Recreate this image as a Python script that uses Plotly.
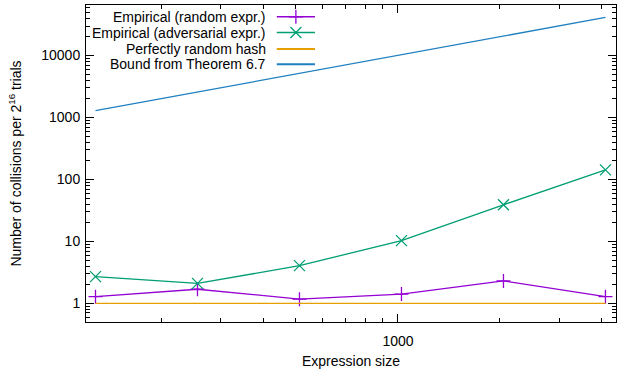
import plotly.graph_objects as go

sizes = [128, 256, 512, 1024, 2048, 4096]
random_expr = [1.28, 1.69, 1.17, 1.41, 2.3, 1.28]
adversarial_expr = [2.7, 2.1, 4.06, 10.3, 39, 143]
perfect_hash = [1, 1, 1, 1, 1, 1]
bound_thm = [1290, 2580, 5160, 10320, 20640, 41280]

series_names = ["Empirical (random expr.)", "Empirical (adversarial expr.)",
                "Perfectly random hash", "Bound from Theorem 6.7"]
series_colors = ["#9400d3", "#009e73", "#e69f00", "#1f80c0"]
series_symbols = ["cross-thin", "x-thin", None, None]
series_msize = [10, 11, None, None]
series_data = [random_expr, adversarial_expr, perfect_hash, bound_thm]

y_ticks = [1, 10, 100, 1000, 10000]
x_ticks = [1000]
x_minor = [200, 300, 400, 500, 600, 700, 800, 900, 2000, 3000, 4000]
y_minor = [m * 10 ** e for e in range(-1, 5) for m in range(2, 10) if 0.5 < m * 10 ** e < 65536]

FONT = "Liberation Sans, Arial, sans-serif"
FS = 14
fig = go.Figure()

for name, color, sym, ms, data in zip(series_names, series_colors, series_symbols, series_msize, series_data):
    fig.add_trace(go.Scatter(
        x=sizes, y=data, name=name, showlegend=False,
        mode="lines+markers" if sym else "lines",
        line=dict(color=color, width=1.3),
        marker=dict(symbol=sym, size=ms, line=dict(color=color, width=1.3)) if sym else None,
    ))

# custom gnuplot-style legend (text right-aligned, sample to the right)
leg_rows = [0.963, 0.913, 0.861, 0.813]
for name, color, sym, ms, ry in zip(series_names, series_colors, series_symbols, series_msize, leg_rows):
    fig.add_annotation(x=0.343, y=ry, xref="paper", yref="paper", text=name,
                       showarrow=False, xanchor="right", yanchor="middle",
                       font=dict(family=FONT, size=FS, color="black"))
    fig.add_shape(type="line", xref="paper", yref="paper", x0=0.360, x1=0.432, y0=ry, y1=ry,
                  line=dict(color=color, width=1.5 if sym else 2))
    if sym:
        fig.add_trace(go.Scatter(x=[0.396], y=[ry], xaxis="x2", yaxis="y2", mode="markers",
                                 showlegend=False, hoverinfo="skip",
                                 marker=dict(symbol=sym, size=ms, color=color,
                                             line=dict(color=color, width=1.3))))

axis_common = dict(showline=True, linecolor="black", linewidth=1, mirror="ticks",
                   ticks="inside", ticklen=8, tickcolor="black", showgrid=False, zeroline=False,
                   tickfont=dict(family=FONT, size=FS, color="black"))

fig.update_layout(
    width=617, height=375,
    margin=dict(l=86, r=1, t=5, b=53),
    plot_bgcolor="white", paper_bgcolor="white",
    font=dict(family=FONT, size=FS, color="black"),
    xaxis=dict(type="log", range=[2.0792, 3.6435], tickvals=x_ticks,
               ticktext=[str(v) for v in x_ticks], ticklabelstandoff=6,
               minor=dict(tickvals=x_minor, ticks="inside", ticklen=4, tickcolor="black"),
               title=dict(text="Expression size", standoff=8,
                          font=dict(family=FONT, size=FS)),
               automargin=False, **axis_common),
    yaxis=dict(type="log", range=[-0.30103, 4.81648], tickvals=y_ticks,
               ticktext=[str(v) for v in y_ticks], ticklabelstandoff=2,
               minor=dict(tickvals=y_minor, ticks="inside", ticklen=4, tickcolor="black"),
               title=dict(text="Number of collisions per 2<sup>16</sup> trials", standoff=16,
                          font=dict(family=FONT, size=FS)),
               automargin=False, **axis_common),
    xaxis2=dict(overlaying="x", range=[0, 1], visible=False, fixedrange=True),
    yaxis2=dict(overlaying="y", range=[0, 1], visible=False, fixedrange=True),
)

fig.write_html("out.html", config={"displayModeBar": False},
               post_script="document.body.style.margin='0';")
